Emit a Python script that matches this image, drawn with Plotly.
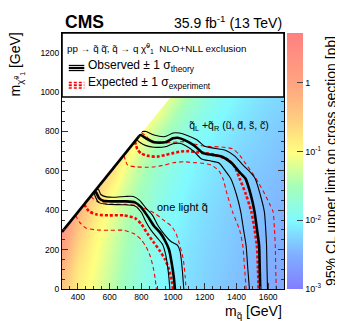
import plotly.graph_objects as go
import numpy as np

# ---------------- data ----------------
mq_grid = [300, 400, 500, 600, 700, 800, 900, 1000, 1100, 1200, 1300, 1400, 1500, 1600, 1700]
mchi_grid = [0, 100, 200, 300, 400, 500, 600, 700, 800, 900, 1000, 1100, 1200, 1300]
N = None
log_limit = [
    [-0.45, -0.85, -1.10, -1.35, -1.60, -1.80, -1.97, -2.10, -2.20, -2.27, -2.33, -2.40, -2.45, -2.52, -2.58],
    [-0.25, -0.80, -1.05, -1.30, -1.55, -1.77, -1.95, -2.08, -2.18, -2.26, -2.32, -2.38, -2.44, -2.50, -2.55],
    [0.05, -0.65, -0.98, -1.25, -1.50, -1.73, -1.92, -2.05, -2.16, -2.24, -2.30, -2.36, -2.42, -2.48, -2.53],
    [0.30, -0.45, -0.90, -1.18, -1.45, -1.68, -1.88, -2.02, -2.13, -2.22, -2.28, -2.34, -2.40, -2.46, -2.50],
    [N, -0.20, -0.75, -1.08, -1.38, -1.62, -1.83, -1.98, -2.10, -2.19, -2.26, -2.32, -2.38, -2.43, -2.48],
    [N, N, -0.45, -0.95, -1.28, -1.55, -1.77, -1.93, -2.06, -2.15, -2.23, -2.29, -2.35, -2.40, -2.45],
    [N, N, N, -0.65, -1.12, -1.43, -1.68, -1.87, -2.01, -2.11, -2.19, -2.26, -2.32, -2.37, -2.42],
    [N, N, N, N, -0.80, -1.25, -1.55, -1.78, -1.94, -2.05, -2.14, -2.22, -2.28, -2.33, -2.38],
    [N, N, N, N, N, -0.95, -1.35, -1.62, -1.83, -1.97, -2.07, -2.16, -2.23, -2.29, -2.34],
    [N, N, N, N, N, N, -1.05, -1.42, -1.68, -1.86, -1.99, -2.09, -2.17, -2.24, -2.29],
    [N, N, N, N, N, N, N, -1.15, -1.50, -1.73, -1.90, -2.02, -2.11, -2.18, -2.24],
    [N, N, N, N, N, N, N, N, -1.25, -1.56, -1.78, -1.94, -2.05, -2.13, -2.20],
    [N, N, N, N, N, N, N, N, N, -1.35, -1.62, -1.83, -1.97, -2.08, -2.16],
    [N, N, N, N, N, N, N, N, N, N, -1.45, -1.68, -1.87, -2.00, -2.10],
]

# kinematic diagonal (part of observed contour)
diag_mq = [300, 785]
diag_mchi = [290, 775]

# q_L + q_R (4 light flavours)
A_obs_mq = [785, 795, 830, 880, 950, 1000, 1030, 1070, 1130, 1190, 1250, 1310, 1370, 1415, 1457, 1490, 1514, 1530, 1543, 1547, 1550]
A_obs_mchi = [775, 782, 765, 745, 745, 765, 768, 757, 731, 690, 681, 672, 640, 597, 561, 480, 393, 300, 221, 100, 0]
A_obsup_mq = [805, 830, 880, 950, 1000, 1040, 1090, 1150, 1200, 1260, 1330, 1390, 1440, 1480, 1518, 1550, 1576, 1585, 1590, 1593, 1596]
A_obsup_mchi = [800, 800, 782, 774, 792, 792, 780, 758, 725, 715, 705, 675, 630, 600, 561, 480, 393, 300, 221, 100, 0]
A_obsdn_mq = [770, 790, 830, 880, 950, 1000, 1040, 1080, 1130, 1180, 1240, 1290, 1330, 1364, 1400, 1427, 1445, 1461, 1472, 1482]
A_obsdn_mchi = [760, 745, 728, 720, 722, 738, 740, 728, 700, 660, 650, 640, 600, 561, 480, 393, 300, 221, 100, 0]
A_exp_mq = [760, 775, 800, 850, 900, 950, 1000, 1050, 1100, 1150, 1200, 1250, 1300, 1350, 1390, 1420, 1460, 1494, 1515, 1529, 1536, 1540]
A_exp_mchi = [750, 710, 688, 675, 672, 680, 690, 698, 700, 695, 690, 684, 672, 655, 620, 561, 480, 393, 300, 221, 100, 0]
A_expup_mq = [800, 826, 856, 900, 950, 1000, 1070, 1140, 1200, 1260, 1320, 1376, 1420, 1457, 1500, 1539, 1580, 1610, 1631, 1640, 1645, 1648, 1651]
A_expup_mchi = [795, 780, 757, 745, 742, 745, 748, 735, 725, 723, 720, 712, 680, 638, 590, 540, 480, 430, 393, 300, 221, 100, 0]
A_expdn_mq = [690, 714, 765, 830, 887, 950, 1000, 1070, 1130, 1192, 1240, 1290, 1315, 1340, 1375, 1420, 1440, 1452, 1461]
A_expdn_mchi = [680, 629, 621, 618, 621, 630, 641, 646, 642, 638, 630, 600, 561, 485, 393, 300, 221, 100, 0]

# one light squark
B_obs_mq = [505, 515, 535, 560, 620, 700, 760, 800, 840, 880, 920, 950, 975, 990, 1005, 1012]
B_obs_mchi = [495, 490, 460, 448, 445, 445, 440, 415, 370, 320, 285, 245, 200, 140, 60, 0]
B_obsup_mq = [515, 530, 545, 580, 640, 700, 750, 790, 830, 870, 907, 948, 989, 1029, 1045, 1052, 1060, 1068]
B_obsup_mchi = [505, 505, 480, 468, 466, 470, 470, 450, 410, 375, 320, 275, 240, 222, 190, 150, 85, 0]
B_obsdn_mq = [500, 530, 580, 680, 760, 800, 830, 860, 900, 935, 955, 968, 975, 980]
B_obsdn_mchi = [490, 440, 430, 428, 422, 390, 340, 300, 260, 225, 170, 102, 50, 0]
B_exp_mq = [440, 470, 520, 600, 690, 760, 800, 840, 880, 920, 950, 975, 990, 1000]
B_exp_mchi = [430, 395, 378, 374, 374, 360, 330, 280, 235, 190, 150, 100, 50, 0]
B_expup_mq = [480, 520, 600, 700, 765, 826, 887, 948, 989, 1020, 1040, 1060, 1070, 1077, 1082]
B_expup_mchi = [470, 445, 432, 430, 425, 408, 383, 345, 320, 280, 230, 170, 120, 60, 0]
B_expdn_mq = [385, 410, 450, 520, 600, 690, 760, 800, 830, 855, 875, 888, 895]
B_expdn_mchi = [375, 340, 310, 300, 298, 298, 278, 250, 215, 170, 110, 50, 0]

x_range = [300, 1700]
y_range = [0, 1300]
z_range = [-3, 0.72]
cb_major = [-3, -2, -1, 0]
cb_major_text = ["10<sup>-3</sup>", "10<sup>-2</sup>", "10<sup>-1</sup>", "1"]

# ---------------- geometry helpers ----------------
W, H = 343, 321
ML, MR, MT, MB = 54, 60, 25, 40
PW, PH = W - ML - MR, H - MT - MB
CB_X0, CB_W = 286, 16


def px(x):
    return (x - ML) / PW


def py(y):
    return (H - MB - y) / PH


FONT = "Liberation Sans, Arial, Helvetica, sans-serif"
RED = "#ff0000"

colorscale = [
    [0.0, "rgb(130,125,255)"],
    [0.133, "rgb(128,175,255)"],
    [0.266, "rgb(128,250,255)"],
    [0.399, "rgb(165,255,185)"],
    [0.532, "rgb(255,255,128)"],
    [0.665, "rgb(255,205,128)"],
    [0.798, "rgb(255,165,128)"],
    [1.0, "rgb(255,128,128)"],
]

# cells above the kinematic limit are hidden by the white mask; pad them
# with the nearest visible cell of the same column so smoothing is clean
z_plot = [row[:] for row in log_limit]
for j in range(len(mq_grid)):
    last = None
    for i in range(len(mchi_grid)):
        if z_plot[i][j] is None:
            z_plot[i][j] = last
        else:
            last = z_plot[i][j]

fig = go.Figure()
fig.add_trace(go.Heatmap(
    x=mq_grid, y=mchi_grid, z=z_plot, zsmooth="best",
    colorscale=colorscale, zmin=z_range[0], zmax=z_range[1],
    colorbar=dict(
        x=px(CB_X0), xanchor="left", xref="paper", y=0.5, yanchor="middle", len=1, lenmode="fraction",
        thickness=CB_W, outlinewidth=0, ticks="inside", ticklen=6, tickcolor="#444",
        tickvals=cb_major, ticktext=cb_major_text, tickfont=dict(family=FONT, size=9, color="black"),
        ypad=0, xpad=0,
        title=dict(text="95% CL upper limit on cross section [pb]", side="right",
                   font=dict(family=FONT, size=14, color="black")),
    ),
    hoverinfo="skip",
))

# white mask above kinematic diagonal
slope = (diag_mchi[1] - diag_mchi[0]) / (diag_mq[1] - diag_mq[0])
lo = x_range[0] - 60
hi = y_range[1] + 200


def diag_y(m):
    return diag_mchi[0] + slope * (m - diag_mq[0])


fig.add_trace(go.Scatter(
    x=[lo, hi, lo, lo], y=[diag_y(lo), diag_y(hi), diag_y(hi), diag_y(lo)],
    fill="toself", fillcolor="white", mode="lines", line=dict(width=0), hoverinfo="skip", showlegend=False,
))


def curve(x, y, color, width, dash=None, shape="spline"):
    fig.add_trace(go.Scatter(
        x=x, y=y, mode="lines",
        line=dict(color=color, width=width, dash=dash, shape=shape, smoothing=0.6),
        hoverinfo="skip", showlegend=False,
    ))


for pre in ["A", "B"]:
    g = globals()
    curve(g[pre + "_expdn_mq"], g[pre + "_expdn_mchi"], RED, 1.1, "4px,3px")
    curve(g[pre + "_expup_mq"], g[pre + "_expup_mchi"], RED, 1.1, "4px,3px")
    curve(g[pre + "_exp_mq"], g[pre + "_exp_mchi"], RED, 2.6, "3px,2px")
    curve(g[pre + "_obsdn_mq"], g[pre + "_obsdn_mchi"], "black", 1.1)
    curve(g[pre + "_obsup_mq"], g[pre + "_obsup_mchi"], "black", 1.1)
    curve(g[pre + "_obs_mq"], g[pre + "_obs_mchi"], "black", 2.6)
curve(diag_mq, diag_mchi, "black", 2.6, shape="linear")

axis_common = dict(
    showline=True, linecolor="black", linewidth=1, mirror="allticks",
    ticks="inside", ticklen=6, tickcolor="#333", showgrid=False, zeroline=False,
    tickfont=dict(family=FONT, size=8.5, color="black"),
    minor=dict(ticks="inside", ticklen=3, dtick=50, tickcolor="#333", showgrid=False),
)
fig.update_xaxes(range=x_range, tickvals=[400, 600, 800, 1000, 1200, 1400, 1600], **axis_common)
fig.update_yaxes(range=y_range, tickvals=[0, 200, 400, 600, 800, 1000, 1200], **axis_common)

shapes = []
# colour-bar minor (log) ticks
for d in range(-3, 1):
    for m in range(2, 10):
        v = d + np.log10(m)
        if v < z_range[1]:
            yy = (v - z_range[0]) / (z_range[1] - z_range[0])
            shapes.append(dict(type="line", xref="paper", yref="paper",
                               x0=px(CB_X0 + CB_W - 3), x1=px(CB_X0 + CB_W), y0=yy, y1=yy,
                               line=dict(color="#444", width=1), layer="above"))
# legend box
shapes.append(dict(type="rect", xref="paper", yref="paper", x0=0, x1=1, y0=py(89), y1=1,
                   fillcolor="white", line=dict(color="black", width=1.6), layer="above"))
for yy, wd in [(57.5, 1.3), (60, 2.0), (62.5, 1.3)]:
    shapes.append(dict(type="line", xref="paper", yref="paper", x0=px(61), x1=px(77), y0=py(yy), y1=py(yy),
                       line=dict(color="black", width=wd), layer="above"))
for yy, wd in [(74.5, 1.6), (77.2, 2.0), (80, 1.6)]:
    shapes.append(dict(type="line", xref="paper", yref="paper", x0=px(61), x1=px(77), y0=py(yy), y1=py(yy),
                       line=dict(color=RED, width=wd, dash="3px,2px"), layer="above"))

ann = []


def text(x, y, s, size, xanchor="left", yanchor="middle", angle=0, color="black", ref="paper"):
    ann.append(dict(x=x, y=y, xref=ref, yref=ref, text=s, showarrow=False, xanchor=xanchor,
                    yanchor=yanchor, textangle=angle, font=dict(family=FONT, size=size, color=color)))


text(px(55), py(14), "<b>CMS</b>", 17.5)
text(px(283), py(14), "35.9 fb<sup>-1</sup> (13 TeV)", 14, xanchor="right")
text(px(57), py(40), "pp \u2192 q\u0303 q\u0303\u0304, q\u0303 \u2192 q \u03c7\u0303<sup>0</sup><sub>1</sub>  NLO+NLL exclusion", 9.8)
text(px(79), py(58), "Observed \u00b1 1 \u03c3<sub>theory</sub>", 12)
text(px(79), py(75), "Expected \u00b1 1 \u03c3<sub>experiment</sub>", 12)
text(px(283), py(304), "m<sub>q\u0303</sub> [GeV]", 14, xanchor="right")
text(px(7), py(22), "m<sub>\u03c7\u0303<sup>0</sup><sub>1</sub></sub> [GeV]", 14, xanchor="center", yanchor="top", angle=-90)
text(1351, 826, "q\u0303<sub>L</sub> +q\u0303<sub>R</sub> (u\u0303, d\u0303, s\u0303, c\u0303)", 10.5, xanchor="center", ref="data")
text(1058, 418, "one light q\u0303", 11, xanchor="center", ref="data")
for a in ann:
    if a["xref"] == "data":
        a["xref"], a["yref"] = "x", "y"

fig.update_layout(
    width=W, height=H, margin=dict(l=ML, r=MR, t=MT, b=MB, pad=0),
    paper_bgcolor="white", plot_bgcolor="white", showlegend=False,
    shapes=shapes, annotations=ann, font=dict(family=FONT),
)

fig.write_html("out.html")
